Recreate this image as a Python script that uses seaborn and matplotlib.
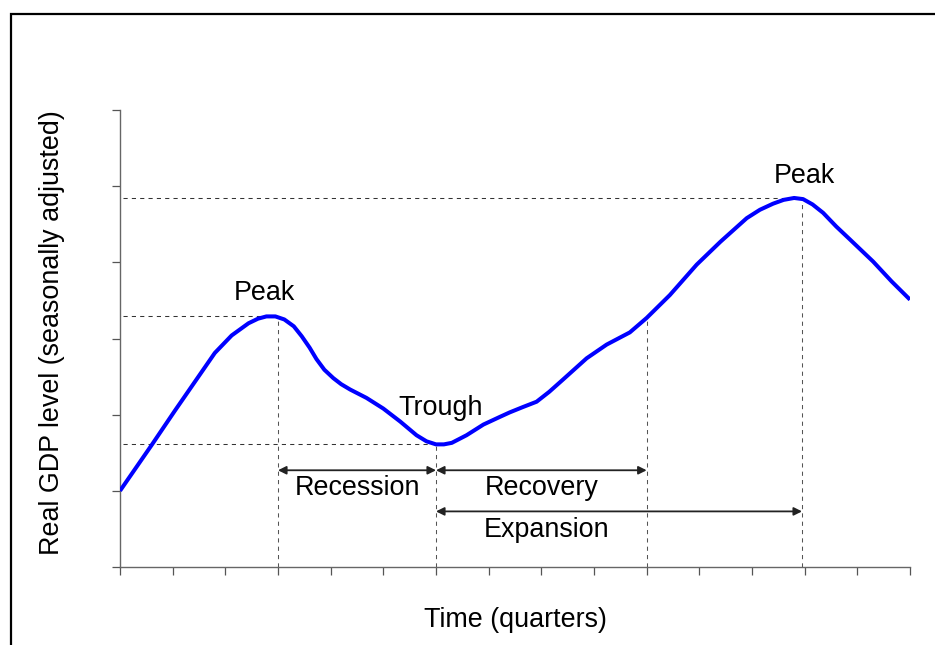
import matplotlib
matplotlib.use("Agg")
import matplotlib.pyplot as plt
from matplotlib.patches import Rectangle
import seaborn as sns
import pandas as pd

# ---- data ----
quarters = [0, 0.6, 1.04, 1.49, 1.8, 2.12, 2.44, 2.62, 2.78, 2.95, 3.12, 3.3, 3.45,
            3.6, 3.73, 3.88, 4.05, 4.2, 4.37, 4.68, 5.0, 5.32, 5.63, 5.82, 6.0, 6.15,
            6.3, 6.58, 6.9, 7.21, 7.4, 7.65, 7.91, 8.15, 8.41, 8.86, 9.24, 9.68, 10.0,
            10.44, 10.95, 11.4, 11.9, 12.15, 12.4, 12.6, 12.8, 12.97, 13.15, 13.35,
            13.6, 13.86, 14.3, 14.65, 15.0]
gdp = [1.0, 1.60, 2.05, 2.50, 2.81, 3.04, 3.20, 3.26, 3.29, 3.29, 3.25, 3.16, 3.03,
       2.88, 2.73, 2.59, 2.48, 2.40, 2.33, 2.22, 2.08, 1.91, 1.73, 1.65, 1.61, 1.61,
       1.63, 1.73, 1.87, 1.97, 2.03, 2.10, 2.17, 2.30, 2.46, 2.74, 2.92, 3.08, 3.27,
       3.57, 3.97, 4.27, 4.58, 4.69, 4.77, 4.82, 4.845, 4.83, 4.76, 4.65, 4.47, 4.30,
       4.01, 3.75, 3.51]

turn_x = [3.0, 6.0, 10.0, 12.95]          # peak1, trough, recovery end, peak2
turn_y = [3.29, 1.62, 3.29, 4.845]

point_labels = ["Peak", "Trough", "Peak"]
point_label_x = [2.75, 6.08, 13.0]
point_label_y = [3.6, 2.09, 5.14]

phase_labels = ["Recession", "Recovery", "Expansion"]
phase_start = [3.0, 6.0, 6.0]
phase_end = [6.0, 10.0, 12.95]
phase_arrow_y = [1.27, 1.27, 0.73]
phase_text_x = [4.5, 8.0, 8.1]
phase_text_y = [1.04, 1.04, 0.49]

x_ticks = list(range(0, 16))
y_ticks = list(range(0, 7))

# ---- style ----
sns.set_style("white")
plt.rcParams['font.family'] = ['Liberation Sans', 'DejaVu Sans']
plt.rcParams['text.color'] = 'black'

W, H = 935, 645
fig = plt.figure(figsize=(W / 100, H / 100), dpi=100)
ax = fig.add_axes([120 / W, (H - 567) / H, (910 - 120) / W, (567 - 110) / H])

df = pd.DataFrame({"Quarter": quarters, "GDP": gdp})
sns.lineplot(data=df, x="Quarter", y="GDP", ax=ax, color="#0000FF", linewidth=2.9,
             sort=False, zorder=5, solid_joinstyle='round', solid_capstyle='butt')

ax.set_xlim(0, 15)
ax.set_ylim(0, 6)
ax.set_xticks(x_ticks)
ax.set_yticks(y_ticks)
ax.set_xticklabels([])
ax.set_yticklabels([])
ax.tick_params(axis='both', direction='out', length=6, width=0.9, color='#555555',
               bottom=True, left=True)
for s in ['top', 'right']:
    ax.spines[s].set_visible(False)
for s in ['left', 'bottom']:
    ax.spines[s].set_color('#666666')
    ax.spines[s].set_linewidth(1.0)

ax.set_xlabel("")
ax.set_ylabel("")

dash = (0, (4, 4))
for hx, hy in [(turn_x[0], turn_y[0]), (turn_x[1], turn_y[1]), (turn_x[3], turn_y[3])]:
    ax.plot([0.05, hx], [hy, hy], color='#333333', lw=0.75, ls=dash, zorder=2)
for vx, vy in zip(turn_x, turn_y):
    ax.plot([vx, vx], [0, vy], color='#555555', lw=0.75, ls=dash, zorder=2)

for t, tx, ty in zip(point_labels, point_label_x, point_label_y):
    ax.text(tx, ty, t, ha='center', va='center', fontsize=19.4, color='black', zorder=6)

for t, x0, x1, ay, tx, ty in zip(phase_labels, phase_start, phase_end, phase_arrow_y,
                                 phase_text_x, phase_text_y):
    ax.annotate("", xy=(x1, ay), xytext=(x0, ay),
                arrowprops=dict(arrowstyle='<|-|>', color='#222222', lw=1.3,
                                mutation_scale=12, shrinkA=0, shrinkB=0))
    ax.text(tx, ty, t, ha='center', va='center', fontsize=19.4, color='black')

fig.text(515 / W, 1 - 620 / H, "Time (quarters)", ha='center', va='center',
         fontsize=19.4, color='black')
fig.text(51.7 / W, 1 - 333 / H, "Real GDP level (seasonally adjusted)", ha='center',
         va='center', rotation=90, fontsize=19.4, color='black')

fig.patches.append(Rectangle((11 / W, -0.05), 1.2, 1 - 14 / H + 0.05,
                             transform=fig.transFigure, fill=False,
                             edgecolor='black', linewidth=1.6))

fig.savefig("out.png", dpi=100)
